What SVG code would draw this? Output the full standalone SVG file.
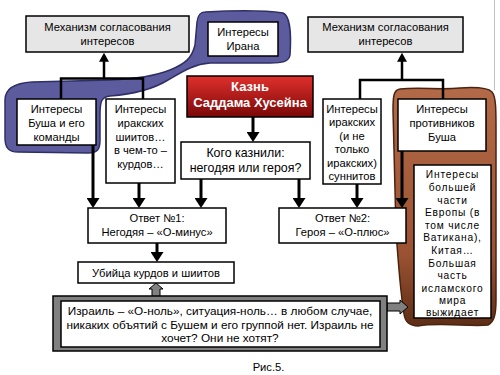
<svg xmlns="http://www.w3.org/2000/svg" width="500" height="375" viewBox="0 0 500 375">
<style>
  text { font-family: "Liberation Sans", Arial, sans-serif; font-size: 11.2px; fill: #000; text-anchor: middle; }
  .box { fill: #fff; stroke: #000; stroke-width: 1.5; }
  .gbox { fill: #e6e6e6; stroke: #000; stroke-width: 1.5; }
  .con { fill: none; stroke: #000; stroke-width: 3; }
  .thin { fill: none; stroke: #000; stroke-width: 2.5; }
  .blk { fill: #808080; stroke: #000; stroke-width: 1; }
  .big { font-size: 12.4px; }
  .isr { font-size: 11.8px; }
  .red { font-size: 13px; font-weight: bold; fill: #fff; }
  .eu { font-size: 10.2px; letter-spacing: 0.8px; }
</style>
<defs>
  <marker id="ah" viewBox="0 0 10 10" markerUnits="userSpaceOnUse" markerWidth="10" markerHeight="13" refX="2" refY="5" orient="auto" preserveAspectRatio="none">
    <path d="M0,0 L10,5 L0,10 Z" fill="#000"/>
  </marker>
  <marker id="ahs" viewBox="0 0 10 10" markerUnits="userSpaceOnUse" markerWidth="9" markerHeight="10" refX="2" refY="5" orient="auto" preserveAspectRatio="none">
    <path d="M0,0 L10,5 L0,10 Z" fill="#000"/>
  </marker>
  <linearGradient id="redg" x1="0" y1="0" x2="0" y2="1">
    <stop offset="0" stop-color="#e0302c"/>
    <stop offset="1" stop-color="#7a0808"/>
  </linearGradient>
  <linearGradient id="brg" x1="0" y1="0" x2="0" y2="1">
    <stop offset="0" stop-color="#b36a48"/>
    <stop offset="0.7" stop-color="#9a5232"/>
    <stop offset="1" stop-color="#5e2e16"/>
  </linearGradient>
</defs>
<rect x="0" y="0" width="500" height="375" fill="#fff"/>
<line x1="494.5" y1="0" x2="494.5" y2="90" stroke="#c0c0c0" stroke-width="1"/>

<!-- background blobs -->
<g id="blob-iran">
  <path d="M205 12 C240 10 270 11 283 13 C291 16 291 40 290 55 C289 62 282 63 270 63 L210 63 C195 64 185 70 168 80 C155 88 135 94 110 96 C101 97 100 102 100 115 L100 140 C100 150 97 153 88 153 L18 152 C8 152 5 147 5 138 L5 100 C5 88 15 83 32 82 L110 80 C135 79 155 76 170 70 C185 64 192 58 195 45 L197 22 C198 15 200 12 205 12 Z" fill="#5b5b9e" stroke="#2f2f66" stroke-width="1.5"/>
</g>
<g id="blob-opponents">
  <path d="M400 89 C420 87 440 90 460 88 C475 87 488 88 492 92 C496 96 496 110 496 130 L496 300 C496 315 494 322 488 325 C470 327 440 322 418 326 C408 326 405 321 404 314 C401 295 398 260 396 230 L393 110 C393 95 394 90 400 89 Z" fill="url(#brg)" stroke="#4a2410" stroke-width="1.5"/>
</g>

<!-- connectors -->
<g id="connectors">
  <polyline class="thin" points="61,99 61,78.5 143,78.5 143,99"/>
  <line class="thin" x1="104" y1="78" x2="104" y2="60" marker-end="url(#ahs)"/>
  <polyline class="thin" points="360,99 360,80 443,80 443,99"/>
  <line class="thin" x1="402" y1="80" x2="402" y2="60" marker-end="url(#ahs)"/>
  <line class="con" x1="253" y1="117" x2="253" y2="134" marker-end="url(#ah)"/>
  <line class="con" x1="93" y1="145" x2="93" y2="200" marker-end="url(#ah)"/>
  <line class="con" x1="139" y1="183" x2="139" y2="200" marker-end="url(#ah)"/>
  <line class="con" x1="201" y1="179" x2="201" y2="200" marker-end="url(#ah)"/>
  <line class="con" x1="299" y1="179" x2="299" y2="200" marker-end="url(#ah)"/>
  <line class="con" x1="357" y1="184" x2="357" y2="200" marker-end="url(#ah)"/>
  <line class="con" x1="402" y1="151" x2="402" y2="200" marker-end="url(#ah)"/>
  <line class="con" x1="157" y1="243" x2="157" y2="254" marker-end="url(#ah)"/>
  <polygon class="blk" points="156,283 163,289 160,289 160,297 152,297 152,289 149,289"/>
  <polygon class="blk" points="387,303 400,303 400,300 408,307 400,314 400,311 387,311"/>
</g>

<!-- nodes -->
<g id="mech-left">
  <rect class="gbox" x="26" y="16" width="163" height="36"/>
  <text x="107.5" y="31">Механизм согласования</text>
  <text x="107.5" y="45">интересов</text>
</g>
<g id="mech-right">
  <rect class="gbox" x="308" y="17" width="155" height="35"/>
  <text x="385.5" y="31">Механизм согласования</text>
  <text x="385.5" y="45">интересов</text>
</g>
<g id="iran">
  <rect class="box" x="208" y="22" width="70" height="34"/>
  <text x="243" y="36">Интересы</text>
  <text x="243" y="50">Ирана</text>
</g>
<g id="execution">
  <rect x="187" y="76" width="126" height="41" fill="url(#redg)" stroke="#000" stroke-width="1.5"/>
  <text class="red" x="250" y="91">Казнь</text>
  <text class="red" x="250" y="107">Саддама Хусейна</text>
</g>
<g id="question">
  <rect class="box" x="181" y="142" width="129" height="37"/>
  <text class="big" x="245.5" y="157">Кого казнили:</text>
  <text class="big" x="245.5" y="172">негодяя или героя?</text>
</g>
<g id="bush">
  <rect class="box" x="17" y="99" width="79" height="46"/>
  <text x="56.5" y="113">Интересы</text>
  <text x="56.5" y="127">Буша и его</text>
  <text x="56.5" y="141">команды</text>
</g>
<g id="shia">
  <rect class="box" x="106" y="99" width="69" height="84"/>
  <text x="140.5" y="113">Интересы</text>
  <text x="140.5" y="127">иракских</text>
  <text x="140.5" y="141">шиитов…</text>
  <text x="140.5" y="154">в чем-то –</text>
  <text x="140.5" y="168">курдов…</text>
</g>
<g id="sunni">
  <rect class="box" x="323" y="99" width="58" height="85"/>
  <text x="352" y="113">Интересы</text>
  <text x="352" y="126.4">иракских</text>
  <text x="352" y="139.8">(и не</text>
  <text x="352" y="153.2">только</text>
  <text x="352" y="166.6">иракских)</text>
  <text x="352" y="180">суннитов</text>
</g>
<g id="opponents">
  <rect class="box" x="398" y="99" width="88" height="52"/>
  <text x="442" y="113">Интересы</text>
  <text x="442" y="127">противников</text>
  <text x="442" y="141">Буша</text>
</g>
<g id="europe">
  <rect class="box" x="414" y="165" width="77" height="153"/>
  <text class="eu" x="452.5" y="178">Интересы</text>
  <text class="eu" x="452.5" y="191">большей</text>
  <text class="eu" x="452.5" y="203.5">части</text>
  <text class="eu" x="452.5" y="216">Европы (в</text>
  <text class="eu" x="452.5" y="229">том числе</text>
  <text class="eu" x="452.5" y="241">Ватикана),</text>
  <text class="eu" x="452.5" y="254">Китая…</text>
  <text class="eu" x="452.5" y="267">Большая</text>
  <text class="eu" x="452.5" y="279">часть</text>
  <text class="eu" x="452.5" y="292">исламского</text>
  <text class="eu" x="452.5" y="304">мира</text>
  <text class="eu" x="452.5" y="316">выжидает</text>
</g>
<g id="answer1">
  <rect class="box" x="88" y="208" width="138" height="35"/>
  <text x="157" y="222">Ответ №1:</text>
  <text x="157" y="236">Негодяя –  «О-минус»</text>
</g>
<g id="answer2">
  <rect class="box" x="279" y="208" width="127" height="35"/>
  <text x="342.5" y="222">Ответ №2:</text>
  <text x="342.5" y="236">Героя  – «О-плюс»</text>
</g>
<g id="killer">
  <rect class="box" x="78" y="262" width="156" height="21"/>
  <text x="156" y="277">Убийца курдов и шиитов</text>
</g>
<g id="israel">
  <rect x="53" y="296" width="334" height="55" fill="#808080" stroke="#000" stroke-width="1.5"/>
  <rect class="box" x="61" y="301" width="319" height="46"/>
  <text class="isr" x="220" y="315">Израиль – «О-ноль», ситуация-ноль…  в любом случае,</text>
  <text class="isr" x="220" y="328.5">никаких объятий с Бушем и его группой нет. Израиль не</text>
  <text class="isr" x="220" y="342">хочет? Они не хотят?</text>
</g>
<text x="268.5" y="371">Рис.5.</text>
</svg>
